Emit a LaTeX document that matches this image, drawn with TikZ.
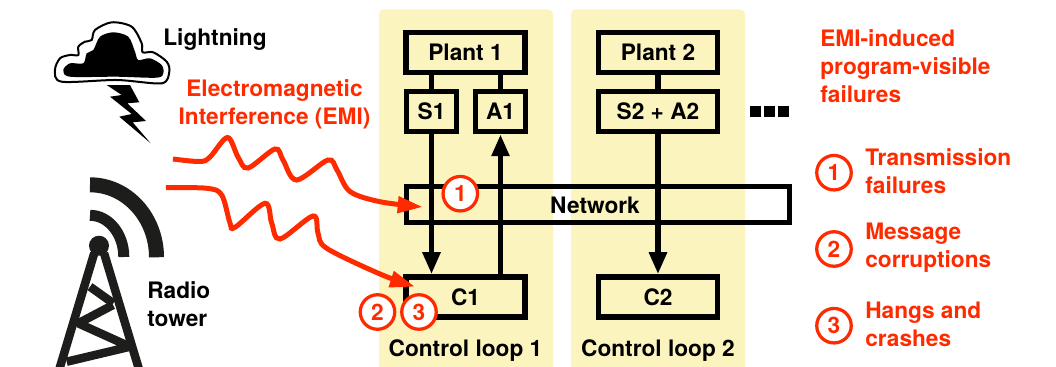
\documentclass[tikz,border=0pt]{standalone}
\usepackage{fontspec}
\setmainfont{TeX Gyre Heros}
\usetikzlibrary{arrows.meta}
\definecolor{emired}{HTML}{FF2B00}
\definecolor{loopyellow}{HTML}{FBF4BE}
\definecolor{towerblack}{HTML}{1D1D1B}
\tikzset{
	labeltext/.style={font=\fontsize{12.9}{15.9}\selectfont\bfseries, inner sep=0pt, align=left},
	redtext/.style={labeltext, text=emired},
	loopbox/.style={fill=loopyellow, rounded corners=0.1cm, minimum width=3.48cm, minimum height=7.4cm, inner sep=0pt},
	widebox/.style={labeltext, align=center, draw=black, line width=0.11cm, minimum width=2.38cm, minimum height=0.8cm},
	smallbox/.style={widebox, minimum width=1cm},
	numcircle/.style={labeltext, align=center, circle, draw=emired, text=emired, fill=white, line width=0.065cm, minimum size=0.69cm},
	flowline/.style={black, line width=0.11cm},
	flowarrow/.style={flowline, -{Triangle[length=4.4mm, width=3.4mm]}},
	emiwave/.style={emired, line width=0.1cm, -{Triangle[length=5mm, width=3.2mm]}}
}
\begin{document}
\begin{tikzpicture}[scale=0.2]
	\useasboundingbox (0,0) rectangle (105.6,-36.7);
	\clip (0,0) rectangle (105.6,-36.7);
	% yellow panels
	\node [loopbox, anchor=north] (loop1) at (46.6,-0.9) {};
	\node [loopbox, anchor=north] (loop2) at (65.8,-0.9) {};
	% lightning
	\draw [black, fill=white, line width=0.04cm] plot [smooth cycle] coordinates {(6.17,-8.17) (5.5,-7) (6,-5.83) (7,-5.5) (7.83,-5.5) (7.83,-4.67) (8.5,-4.17) (9.17,-4) (9.5,-3) (11.17,-2.23) (13.17,-2.67) (14.17,-4.33) (14.27,-5.23) (15.33,-5.23) (16.67,-6.17) (16.93,-7.17) (16.17,-8.33) (11.67,-8)};
	\fill [black] plot [smooth cycle] coordinates {(6.33,-7) (7,-6.33) (8.33,-6.33) (8.67,-5.33) (9.33,-5) (10,-3.67) (11.33,-3.23) (12.83,-3.67) (13.5,-5.17) (13.83,-6) (15,-5.83) (16.17,-6.5) (16.33,-7.33) (15.67,-7.77) (11.67,-7.67) (7,-7.67)};
	\fill [black] (10.67,-8.5) -- (13,-8.5) -- (13.93,-10.23) -- (12.73,-10.33) -- (14.6,-12.1) -- (13.27,-12.23) -- (15.07,-14.33) -- (11.93,-11.67) -- (13.17,-11.4) -- (11,-9.67) -- (12.17,-9.5) -- cycle;
	\node [labeltext, anchor=base west] (lightning) at (16.3,-4.57) {Lightning};
	% radio tower
	\draw [towerblack, line width=0.3cm] (9,-18.48) arc (90:0:6.65 and 7.25);
	\draw [towerblack, line width=0.22cm] (9,-21.53) arc (90:0:3.38 and 4.17);
	\fill [towerblack] (9.9,-24.57) circle (1);
	\draw [towerblack, line width=0.17cm] (9.43,-25.3) -- (5.85,-37.2);
	\draw [towerblack, line width=0.17cm] (10.4,-25.3) -- (13.98,-37.2);
	\draw [towerblack, line width=0.17cm] (9,-28.67) -- (11.33,-30.33);
	\draw [towerblack, line width=0.17cm, line join=bevel] (11.3,-30.5) -- (7.83,-32.33) -- (13,-34.67) -- (6.67,-36.17);
	\node [labeltext, anchor=west] (radio) at (14.7,-30.4) {Radio\\tower};
	% plants and sensors
	\node [widebox] (plant1) at (46.55,-5.25) {Plant 1};
	\node [smallbox] (s1) at (43.15,-11.15) {S1};
	\node [smallbox] (a1) at (50.05,-11.15) {A1};
	\node [widebox] (plant2) at (65.8,-5.25) {Plant 2};
	\node [widebox] (s2a2) at (65.8,-11.15) {S2 + A2};
	\node [widebox] (c1) at (46.55,-29.7) {C1};
	\node [widebox] (c2) at (65.8,-29.7) {C2};
	\node [labeltext, align=center, draw=black, line width=0.11cm, minimum width=7.66cm, minimum height=0.72cm] (network) at (59.8,-20.45) {};
	\node [labeltext, anchor=center] (networktext) at (59.5,-20.55) {Network};
	% connectors
	\draw [flowline] (s1.north) -- (s1.north |- plant1.south);
	\draw [flowline] (a1.north) -- (a1.north |- plant1.south);
	\draw [flowline] (s2a2.north) -- (plant2.south);
	\draw [flowarrow] (s1.south) -- (s1.south |- c1.north);
	\draw [flowarrow] (a1.south |- c1.north) -- (a1.south);
	\draw [flowarrow] (s2a2.south) -- (c2.north);
	\foreach \x in {75,76.4,77.8}
		\fill [black] (\x,-10.6) rectangle ++(1.1,-1.1);
	% interference
	\coordinate (wave1start) at (17.3,-15.9);
	\coordinate (wave2start) at (16.6,-18.77);
	\coordinate (wave1end) at (42.27,-20.7);
	\coordinate (wave2end) at (41.5,-28.67);
	\draw [emiwave] plot [smooth, tension=0.55] coordinates {(wave1start) (20,-16.15) (21,-15.7) (22.75,-13.75) (23.8,-15.7) (24.8,-16.8) (27.5,-14.9) (28.3,-16) (29.65,-18) (32.8,-16) (33.7,-17) (35,-19.15) (38,-20.17) (wave1end)};
	\draw [emiwave] plot [smooth, tension=0.55] coordinates {(wave2start) (20.7,-18.83) (22.17,-19.5) (23,-22.3) (23.5,-22.73) (26.5,-20.33) (27.17,-22.3) (28,-23.9) (31.3,-21.6) (31.8,-23.3) (32.67,-24.83) (38,-27.4) (wave2end)};
	\node [redtext, align=center] (emi) at (27.45,-10.4) {Electromagnetic\\Interference (EMI)};
	% numbered marks
	\node [numcircle] (mark1) at (46.03,-19.37) {1};
	\node [numcircle] (mark2) at (37.75,-31.2) {2};
	\node [numcircle] (mark3) at (41.9,-31.2) {3};
	% legend
	\node [redtext, anchor=west] (failures) at (82,-6.6) {EMI-induced\\program-visible\\failures};
	\node [numcircle] (legend1) at (83.4,-17.27) {1};
	\node [numcircle] (legend2) at (83.4,-24.9) {2};
	\node [numcircle] (legend3) at (83.4,-32.57) {3};
	\node [redtext, anchor=west] (legendtext1) at (86.5,-17.15) {Transmission\\failures};
	\node [redtext, anchor=west] (legendtext2) at (86.5,-24.8) {Message\\corruptions};
	\node [redtext, anchor=west] (legendtext3) at (86.5,-32.45) {Hangs and\\crashes};
	\node [labeltext, anchor=base] (looplabel1) at (46.55,-35.6) {Control loop 1};
	\node [labeltext, anchor=base] (looplabel2) at (65.8,-35.6) {Control loop 2};
\end{tikzpicture}
\end{document}
